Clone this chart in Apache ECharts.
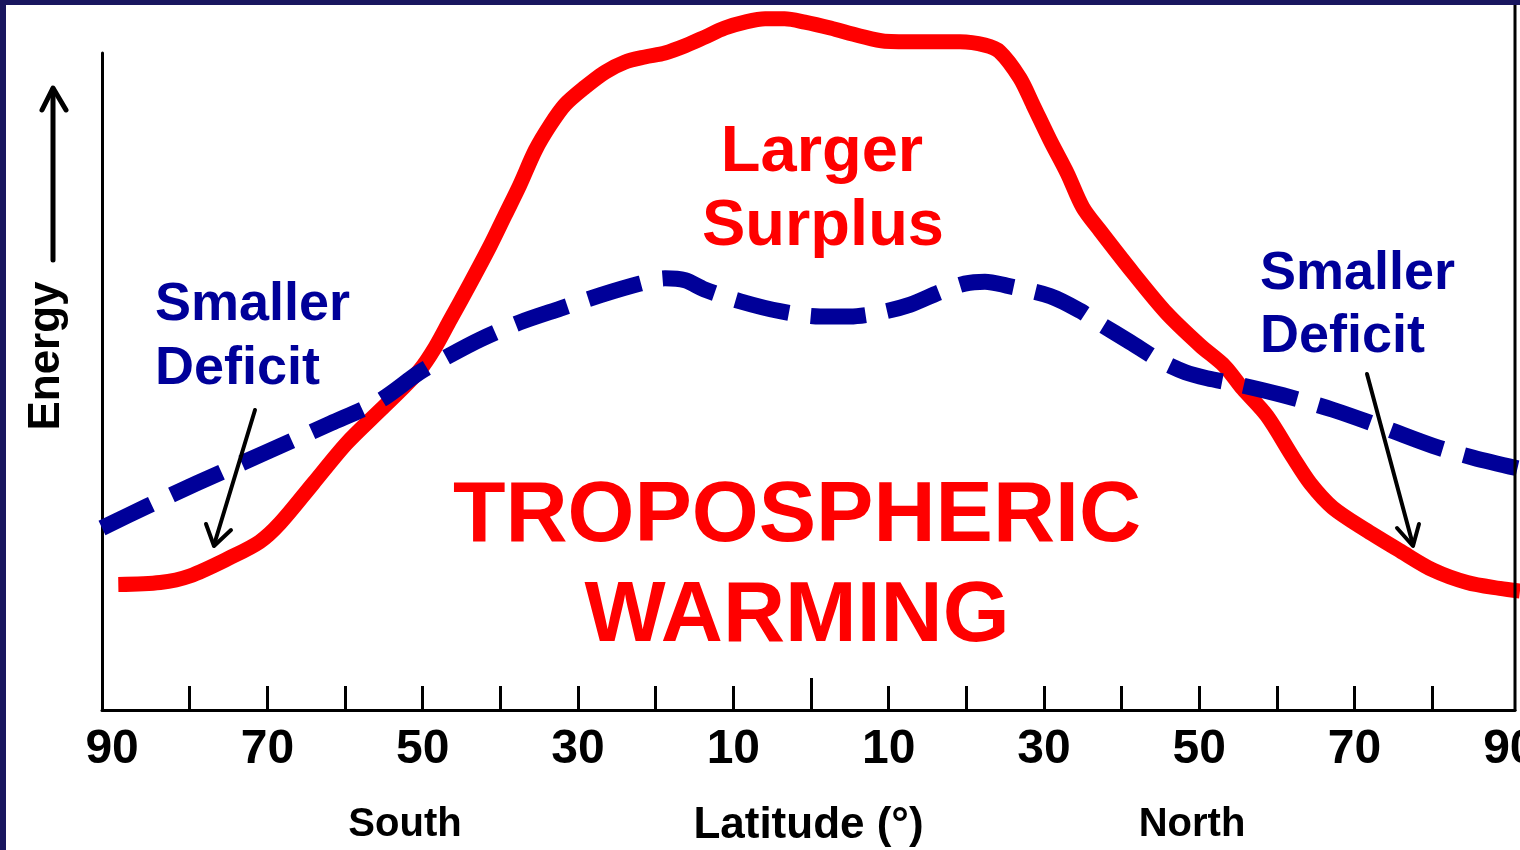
<!DOCTYPE html>
<html>
<head>
<meta charset="utf-8">
<title>Tropospheric warming – energy by latitude</title>
<script src="https://cdn.jsdelivr.net/npm/echarts@6/dist/echarts.min.js"></script>
<style>
  html, body { margin: 0; padding: 0; background: #ffffff; }
  #chart { width: 1520px; height: 850px; }
</style>
</head>
<body>
<div id="chart"></div>
<script>
// Latitude in degrees: negative = South, positive = North.
// Energy in arbitrary units (0 at the latitude axis, 100 near the top of the energy axis).

// Solid red curve: absorbed energy
const absorbedLat = [-89.2, -83.8, -80.0, -74.8, -71.0, -68.4, -64.1, -59.8, -55.5, -52.9,
  -50.4, -48.4, -46.5, -43.9, -41.3, -39.4, -37.5, -35.5, -33.6, -31.7,
  -29.1, -26.5, -24.0, -21.4, -18.8, -16.2, -13.7, -11.1, -8.5, -5.9,
  -3.4, -0.8, 2.5, 6.3, 9.5, 14.0, 19.2, 22.4, 24.3, 26.9,
  28.6, 30.8, 33.0, 35.0, 37.2, 41.5, 45.8, 50.1, 53.3, 55.6,
  58.7, 62.1, 64.3, 67.2, 71.6, 75.9, 80.1, 84.5, 88.7, 91.3];
const absorbedEnergy = [19.1, 19.4, 20.4, 23.2, 25.6, 28.4, 34.5, 40.6, 45.6, 48.6,
  51.7, 55.2, 59.3, 64.9, 70.7, 75.3, 79.9, 85.2, 89.0, 92.1,
  94.8, 97.1, 98.6, 99.4, 100.0, 101.1, 102.4, 103.8, 104.7, 105.2,
  105.2, 104.7, 103.8, 102.6, 101.8, 101.7, 101.7, 101.2, 100.2, 96.2,
  92.1, 86.7, 81.7, 76.5, 73.0, 66.5, 60.4, 55.5, 52.3, 48.9,
  44.8, 38.4, 34.5, 30.8, 27.3, 24.2, 21.3, 19.4, 18.5, 18.1];

// Dashed blue curve: emitted energy
const emittedLat = [-91.3, -85.5, -79.1, -70.6, -61.9, -55.5, -50.4, -46.5, -42.6, -37.5,
  -32.3, -27.2, -22.0, -18.8, -16.2, -13.7, -9.1, -4.0, 1.2, 5.0,
  8.9, 12.8, 16.6, 19.8, 22.4, 25.2, 30.8, 34.6, 37.2, 41.1,
  44.9, 48.2, 51.0, 55.2, 60.8, 67.2, 73.7, 80.1, 85.3, 91.3];
const emittedEnergy = [27.7, 31.0, 34.5, 39.0, 43.6, 47.1, 51.4, 54.0, 56.4, 59.0,
  61.1, 63.1, 64.9, 65.7, 65.4, 64.0, 62.2, 60.7, 59.9, 59.9,
  60.5, 61.7, 63.6, 64.9, 65.2, 64.6, 63.0, 60.8, 58.8, 56.0,
  53.2, 51.4, 50.5, 49.5, 47.9, 45.7, 43.0, 40.2, 38.4, 36.7];

// Axis ticks and labels (degrees)
const tickLatitudes = [-80, -70, -60, -50, -40, -30, -20, -10, 0, 10, 20, 30, 40, 50, 60, 70, 80];
const labelLatitudes = [-90, -70, -50, -30, -10, 10, 30, 50, 70, 90];
const equatorTick = [0];

const FONT = '"Liberation Sans", Arial, Helvetica, sans-serif';
const RED = '#ff0000';
const BLUE = '#000099';
const NAVY = '#19165f';

const zip = (xs, ys) => xs.map((x, i) => [x, ys[i]]);

function textEl(str, x, y, size, color, align, extra) {
  return Object.assign({
    type: 'text',
    x: x,
    y: y,
    z: 20,
    style: {
      text: str,
      font: 'bold ' + size + 'px ' + FONT,
      fill: color,
      textAlign: align || 'center',
      textVerticalAlign: 'middle'
    }
  }, extra || {});
}

function arrowEl(points, width) {
  return {
    type: 'polyline',
    z: 25,
    shape: { points: points },
    style: { stroke: '#000000', lineWidth: width, fill: null, lineCap: 'round', lineJoin: 'round' }
  };
}

const chart = echarts.init(document.getElementById('chart'), null, { renderer: 'canvas' });

const option = {
  animation: false,
  backgroundColor: '#ffffff',
  grid: { left: 102, right: 5, top: 53, bottom: 140, outerBoundsMode: 'none', containLabel: false },
  xAxis: [
    {
      type: 'value',
      min: -91.3,
      max: 90.66,
      splitLine: { show: false },
      axisLine: { show: true, onZero: false, lineStyle: { color: '#000000', width: 3 } },
      axisTick: {
        show: true, inside: true, length: 24,
        customValues: tickLatitudes,
        lineStyle: { color: '#000000', width: 3 }
      },
      axisLabel: {
        show: true,
        customValues: labelLatitudes,
        margin: 16,
        color: '#000000',
        fontFamily: FONT,
        fontWeight: 'bold',
        fontSize: 48,
        formatter: v => String(Math.abs(v))
      },
      name: 'Latitude (°)',
      nameLocation: 'middle',
      nameGap: 94,
      nameTextStyle: { color: '#000000', fontFamily: FONT, fontWeight: 'bold', fontSize: 44 }
    },
    {
      // longer tick marking the equator
      type: 'value',
      min: -91.3,
      max: 90.66,
      position: 'bottom',
      splitLine: { show: false },
      axisLine: { show: false },
      axisLabel: { show: false },
      axisTick: {
        show: true, inside: true, length: 32,
        customValues: equatorTick,
        lineStyle: { color: '#000000', width: 3 }
      }
    }
  ],
  yAxis: {
    type: 'value',
    min: 0,
    max: 100,
    splitLine: { show: false },
    axisTick: { show: false },
    axisLabel: { show: false },
    axisLine: { show: true, onZero: false, lineStyle: { color: '#000000', width: 3 } }
  },
  series: [
    {
      name: 'Absorbed',
      type: 'line',
      data: zip(absorbedLat, absorbedEnergy),
      showSymbol: false,
      smooth: 0.3,
      clip: false,
      z: 3,
      lineStyle: { color: RED, width: 15, cap: 'butt', join: 'round' }
    },
    {
      name: 'Emitted',
      type: 'line',
      data: zip(emittedLat, emittedEnergy),
      showSymbol: false,
      smooth: 0.3,
      clip: false,
      z: 4,
      lineStyle: { color: BLUE, width: 16, type: [55, 22], cap: 'butt', join: 'round' }
    }
  ],
  graphic: [
    // navy frame edges
    { type: 'rect', z: 30, shape: { x: 0, y: 0, width: 1520, height: 5 }, style: { fill: NAVY } },
    { type: 'rect', z: 30, shape: { x: 0, y: 0, width: 6, height: 850 }, style: { fill: NAVY } },
    // right edge of the plot frame
    { type: 'line', z: 10, shape: { x1: 1515, y1: 5, x2: 1515, y2: 711 }, style: { stroke: '#000000', lineWidth: 3 } },

    // energy axis title with upward arrow
    textEl('Energy', 47, 356, 44, '#000000', 'center', { rotation: Math.PI / 2 }),
    arrowEl([[53, 260], [53, 89]], 5),
    arrowEl([[42, 110], [53, 88], [66, 110]], 5),

    // hemisphere labels
    textEl('South', 405, 825, 40, '#000000'),
    textEl('North', 1192, 825, 40, '#000000'),

    // annotations
    textEl('Larger', 822, 153, 65, RED),
    textEl('Surplus', 823, 227, 65, RED),
    textEl('TROPOSPHERIC', 797, 517, 86, RED),
    textEl('WARMING', 797, 617, 86, RED),

    textEl('Smaller', 155, 305, 54, BLUE, 'left'),
    textEl('Deficit', 155, 369, 54, BLUE, 'left'),
    textEl('Smaller', 1260, 274, 54, BLUE, 'left'),
    textEl('Deficit', 1260, 337, 54, BLUE, 'left'),

    arrowEl([[255, 410], [214, 545]], 4),
    arrowEl([[206, 524], [214, 546], [231, 530]], 4),
    arrowEl([[1367, 374], [1413, 545]], 4),
    arrowEl([[1397, 528], [1413, 546], [1419, 524]], 4)
  ]
};

chart.setOption(option);
</script>
</body>
</html>
